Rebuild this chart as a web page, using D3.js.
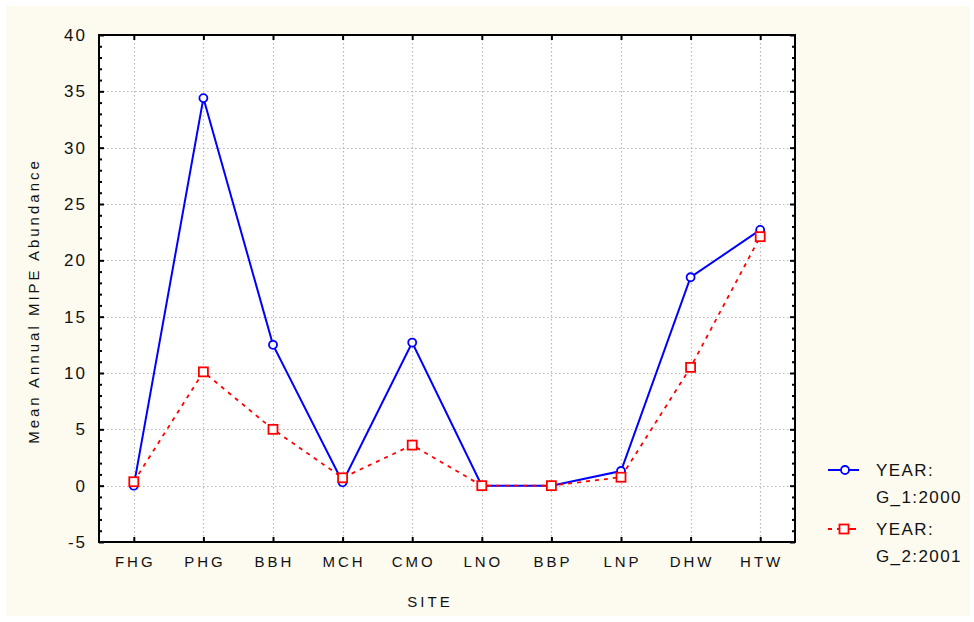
<!DOCTYPE html>
<html>
<head>
<meta charset="utf-8">
<script src="https://cdn.jsdelivr.net/npm/d3@7/dist/d3.min.js"></script>
<style>
  body { margin: 0; background: #fff; }
  text { font-family: Arial, "Liberation Sans", sans-serif; fill: #111; }
</style>
</head>
<body>
<svg id="chart" width="974" height="622"></svg>
<script>
// data
var sites = ["FHG", "PHG", "BBH", "MCH", "CMO", "LNO", "BBP", "LNP", "DHW", "HTW"];
var year2000 = [0, 34.4, 12.5, 0.3, 12.7, 0, 0, 1.3, 18.5, 22.7];
var year2001 = [0.35, 10.1, 5.0, 0.7, 3.6, 0, 0, 0.75, 10.5, 22.1];
var yTicks = [-5, 0, 5, 10, 15, 20, 25, 30, 35, 40];
var legendLabels = [["YEAR:", "G_1:2000"], ["YEAR:", "G_2:2001"]];

//plot box (window.top is taken, so own names)
var pLeft = 99, pRight = 795, pTop = 35, pBottom = 542;

var svg = d3.select("#chart");

// cream panel
svg.append("rect")
    .attr("x", 6).attr("y", 6)
    .attr("width", 964).attr("height", 610)
    .attr("fill", "#fdfbef");

svg.append("rect")
    .attr("x", pLeft).attr("y", pTop)
    .attr("width", pRight - pLeft).attr("height", pBottom - pTop)
    .attr("fill", "#fff");

var x = d3.scalePoint()
    .domain(sites)
    .range([pLeft, pRight])
    .padding(0.5);

var y = d3.scaleLinear()
    .domain([-5, 40])
    .range([pBottom, pTop]);

//grid
var grid = svg.append("g")
    .attr("stroke", "#b8b8b8")
    .attr("stroke-width", 1.2)
    .attr("stroke-dasharray", "1.5,2.5");

grid.selectAll(".hg")
    .data(yTicks.slice(1, -1))
    .enter().append("line")
    .attr("x1", pLeft).attr("x2", pRight)
    .attr("y1", function (d) { return Math.round(y(d)) + 0.5; })
    .attr("y2", function (d) { return Math.round(y(d)) + 0.5; });

grid.selectAll(".vg")
    .data(sites)
    .enter().append("line")
    .attr("y1", pTop).attr("y2", pBottom)
    .attr("x1", function (d) { return Math.round(x(d)) + 0.5; })
    .attr("x2", function (d) { return Math.round(x(d)) + 0.5; });

// minor ticks every unit
var minor = d3.range(-5, 41, 1);

var gl = svg.append("g").attr("transform", "translate(" + pLeft + ",0)")
    .call(d3.axisRight(y).tickValues(minor).tickSize(0).tickFormat(""));
gl.select(".domain").remove();
gl.selectAll(".tick line")
    .attr("x2", function (d) { return d % 5 === 0 ? 5 : 3; })
    .attr("stroke", "#000").attr("stroke-width", 2);

var gr = svg.append("g").attr("transform", "translate(" + pRight + ",0)")
    .call(d3.axisLeft(y).tickValues(minor).tickSize(0).tickFormat(""));
gr.select(".domain").remove();
gr.selectAll(".tick line")
    .attr("x2", function (d) { return d % 5 === 0 ? -5 : -3; })
    .attr("stroke", "#000").attr("stroke-width", 2);

// y tick labels
svg.append("g").selectAll("text")
    .data(yTicks)
    .enter().append("text")
    .attr("x", 87)
    .attr("y", function (d) { return y(d) + 6; })
    .attr("text-anchor", "end")
    .style("font-size", "17px")
    .style("letter-spacing", "2px")
    .text(function (d) { return d; });

// category ticks bottom + top
var gb = svg.append("g").attr("transform", "translate(0," + pBottom + ")")
    .call(d3.axisTop(x).tickSize(5).tickFormat(""));
gb.select(".domain").remove();
gb.selectAll(".tick line").attr("stroke", "#000").attr("stroke-width", 2);

var gt = svg.append("g").attr("transform", "translate(0," + pTop + ")")
    .call(d3.axisBottom(x).tickSize(5).tickFormat(""));
gt.select(".domain").remove();
gt.selectAll(".tick line").attr("stroke", "#000").attr("stroke-width", 2);

svg.append("g").selectAll("text")
    .data(sites)
    .enter().append("text")
    .attr("x", function (d) { return x(d) + 1.5; })
    .attr("y", 567)
    .attr("text-anchor", "middle")
    .style("font-size", "15px")
    .style("letter-spacing", "3px")
    .text(function (d) { return d; });

// frame
svg.append("rect")
    .attr("x", pLeft).attr("y", pTop)
    .attr("width", pRight - pLeft).attr("height", pBottom - pTop)
    .attr("fill", "none")
    .attr("stroke", "#000")
    .attr("stroke-width", 2);

// axis titles
svg.append("text")
    .attr("x", 430).attr("y", 607)
    .attr("text-anchor", "middle")
    .style("font-size", "15px")
    .style("letter-spacing", "3px")
    .text("SITE");

svg.append("text")
    .attr("transform", "translate(39,301) rotate(-90)")
    .attr("text-anchor", "middle")
    .style("font-size", "15px")
    .style("letter-spacing", "3px")
    .text("Mean Annual MIPE Abundance");

//lines
var line = d3.line()
    .x(function (d, i) { return x(sites[i]); })
    .y(function (d) { return y(d); });

svg.append("path")
    .datum(year2000)
    .attr("d", line)
    .attr("fill", "none")
    .attr("stroke", "#0000ff")
    .attr("stroke-width", 2);

svg.append("g").selectAll("circle")
    .data(year2000)
    .enter().append("circle")
    .attr("cx", function (d, i) { return x(sites[i]); })
    .attr("cy", function (d) { return y(d); })
    .attr("r", 4)
    .attr("fill", "#fff")
    .attr("stroke", "#0000ff")
    .attr("stroke-width", 1.8);

svg.append("path")
    .datum(year2001)
    .attr("d", line)
    .attr("fill", "none")
    .attr("stroke", "#ff0000")
    .attr("stroke-width", 1.8)
    .attr("stroke-dasharray", "4,5");

svg.append("g").selectAll("rect")
    .data(year2001)
    .enter().append("rect")
    .attr("x", function (d, i) { return x(sites[i]) - 4.5; })
    .attr("y", function (d) { return y(d) - 4.5; })
    .attr("width", 9).attr("height", 9)
    .attr("fill", "#fff")
    .attr("stroke", "#ff0000")
    .attr("stroke-width", 1.8);

// legend
var leg = svg.append("g");
var ly = [470, 529];

leg.append("line")
    .attr("x1", 828).attr("x2", 859)
    .attr("y1", ly[0]).attr("y2", ly[0])
    .attr("stroke", "#0000ff").attr("stroke-width", 2);
leg.append("circle")
    .attr("cx", 845).attr("cy", ly[0]).attr("r", 4)
    .attr("fill", "#fff").attr("stroke", "#0000ff").attr("stroke-width", 1.8);

leg.append("line")
    .attr("x1", 828).attr("x2", 856)
    .attr("y1", ly[1]).attr("y2", ly[1])
    .attr("stroke", "#ff0000").attr("stroke-width", 1.8)
    .attr("stroke-dasharray", "4,5,30");
leg.append("rect")
    .attr("x", 839.5).attr("y", ly[1] - 4.5)
    .attr("width", 9).attr("height", 9)
    .attr("fill", "#fff").attr("stroke", "#ff0000").attr("stroke-width", 1.8);

legendLabels.forEach(function (lbl, i) {
    lbl.forEach(function (t, j) {
        leg.append("text")
            .attr("x", 876)
            .attr("y", ly[i] + 6 + j * 27)
            .style("font-size", "17px")
            .style("letter-spacing", "1.4px")
            .text(t);
    });
});
</script>
</body>
</html>
